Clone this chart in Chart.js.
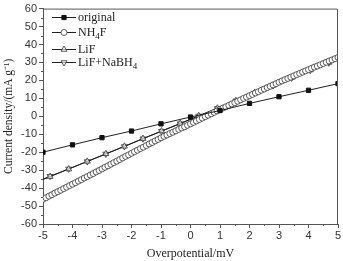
<!DOCTYPE html>
<html>
<head>
<meta charset="utf-8">
<script src="https://cdn.jsdelivr.net/npm/chart.js@4.4.1/dist/chart.umd.min.js"></script>
<style>
  body { margin: 0; background: #fff; }
  canvas { display: block; }
</style>
</head>
<body>
<canvas id="myChart" width="343" height="261"></canvas>
<script>
// Data
let origX = [-5, -4, -3, -2, -1, 0, 1, 2, 3, 4, 5];
let origY = [-20, -15.9, -11.9, -8.2, -4.2, -0.4, 3.2, 7.2, 10.9, 14.5, 18.2];

// NH4F: dense curve, one value every 0.1 mV from -5 to 5
let nh4fY = [
  -46.2, -45.4, -44.5, -43.7, -42.8, -42.0, -41.2, -40.3, -39.5, -38.6,
  -37.8, -37.0, -36.1, -35.3, -34.4, -33.6, -32.7, -31.9, -31.0, -30.2,
  -29.3, -28.4, -27.6, -26.7, -25.8, -25.0, -24.1, -23.2, -22.3, -21.5,
  -20.6, -19.7, -18.9, -18.0, -17.2, -16.3, -15.4, -14.6, -13.7, -12.9,
  -12.0, -11.2, -10.4, -9.6, -8.9, -8.1, -7.3, -6.5, -5.8, -5.0,
  -4.2, -3.4, -2.6, -1.8, -1.0, -0.2, 0.6, 1.4, 2.2, 3.0,
  3.8, 4.6, 5.3, 6.1, 6.9, 7.6, 8.4, 9.2, 10.0, 10.7,
  11.5, 12.2, 13.0, 13.7, 14.5, 15.2, 16.0, 16.7, 17.5, 18.2,
  19.0, 19.7, 20.4, 21.1, 21.8, 22.5, 23.2, 23.9, 24.6, 25.3,
  26.0, 26.7, 27.4, 28.0, 28.7, 29.4, 30.1, 30.8, 31.4, 32.1,
  32.8
];

// LiF and LiF+NaBH4 (markers shown every ~0.63 mV, line runs to the ends)
let liX = [-5, -4.76, -4.13, -3.5, -2.87, -2.24, -1.61, -0.98, -0.35, 0.28, 0.91, 1.54, 2.17, 2.8, 3.43, 4.06, 4.69, 5];
let lifY = [-35.2, -33.6, -29.4, -25.1, -20.9, -16.7, -12.4, -8.2, -4.0, 0.3, 4.5, 8.7, 13.0, 17.2, 21.6, 25.8, 30.0, 32.0];
let nabhY = [-35.0, -33.4, -29.3, -25.2, -21.0, -16.8, -12.5, -8.3, -4.1, 0.2, 4.4, 8.6, 12.9, 17.1, 21.4, 25.6, 29.8, 31.8];

let xMin = -5, xMax = 5, xStep = 1;
let yMin = -60, yMax = 60, yStep = 10;

function pts(xs, ys) {
    return ys.map(function(v, i) { return { x: xs[i], y: v }; });
}

let nh4fX = nh4fY.map(function(v, i) { return Math.round((-5 + i * 0.1) * 10) / 10; });

let serif = "'Liberation Serif', 'Times New Roman', serif";
let sans = "'Liberation Sans', Arial, sans-serif";
let ink = '#222';
let axisCol = '#555';

// endpoints of the triangle series carry no marker
function triRadius(c) {
    return (c.dataIndex === 0 || c.dataIndex === liX.length - 1) ? 0 : 3.5;
}

// Minor ticks + top/right frame
let framePlugin = {
    id: 'frame',
    afterDraw: function(chart) {
        let ctx = chart.ctx;
        let a = chart.chartArea;
        let xs = chart.scales.x, ys = chart.scales.y;
        ctx.save();
        ctx.strokeStyle = axisCol;
        ctx.lineWidth = 1;
        ctx.beginPath();
        ctx.moveTo(a.left, a.top + 0.5);
        ctx.lineTo(a.right - 0.5, a.top + 0.5);
        ctx.lineTo(a.right - 0.5, a.bottom);
        ctx.stroke();
        ctx.beginPath();
        for (let v = xMin + 0.5; v < xMax; v += 1) {
            let px = Math.round(xs.getPixelForValue(v)) + 0.5;
            ctx.moveTo(px, a.bottom);
            ctx.lineTo(px, a.bottom + 2);
        }
        for (let v = yMin + 5; v < yMax; v += 10) {
            let py = Math.round(ys.getPixelForValue(v)) + 0.5;
            ctx.moveTo(a.left, py);
            ctx.lineTo(a.left - 2, py);
        }
        ctx.stroke();
        ctx.restore();
    }
};

// Legend with line + marker and subscripts
let legendPlugin = {
    id: 'subLegend',
    afterDatasetsDraw: function(chart) {
        let ctx = chart.ctx;
        let rows = [
            { y: 17.5, parts: [['original', 0]] },
            { y: 32.5, parts: [['NH', 0], ['4', 1], ['F', 0]] },
            { y: 49.5, parts: [['LiF', 0]] },
            { y: 62.5, parts: [['LiF+NaBH', 0], ['4', 1]] }
        ];
        ctx.save();
        rows.forEach(function(r, i) {
            let ds = chart.data.datasets[i];
            ctx.strokeStyle = ink;
            ctx.lineWidth = 1;
            ctx.beginPath();
            ctx.moveTo(52, r.y);
            ctx.lineTo(76, r.y);
            ctx.stroke();
            ctx.fillStyle = ds.pointBackgroundColor;
            ctx.strokeStyle = ds.pointBorderColor;
            ctx.lineWidth = ds.pointBorderWidth;
            Chart.helpers.drawPoint(ctx, {
                pointStyle: ds.pointStyle,
                radius: ds.legendRadius,
                rotation: ds.pointRotation || 0,
                borderWidth: ds.pointBorderWidth
            }, 64, r.y);
            let x = 78;
            ctx.fillStyle = ink;
            ctx.textBaseline = 'middle';
            r.parts.forEach(function(p) {
                if (p[1]) {
                    ctx.font = '9px ' + serif;
                    ctx.fillText(p[0], x, r.y + 4);
                } else {
                    ctx.font = '12px ' + serif;
                    ctx.fillText(p[0], x, r.y);
                }
                x += ctx.measureText(p[0]).width;
            });
        });
        ctx.restore();
    }
};

let ctx = document.getElementById('myChart').getContext('2d');
let myChart = new Chart(ctx, {
    type: 'scatter',
    data: {
        datasets: [{
            label: 'original',
            data: pts(origX, origY),
            showLine: true,
            borderColor: ink,
            borderWidth: 1,
            pointStyle: 'rect',
            pointRadius: 3,
            legendRadius: 3,
            pointBackgroundColor: '#111',
            pointBorderColor: '#111',
            pointBorderWidth: 1
        }, {
            label: 'NH4F',
            data: pts(nh4fX, nh4fY),
            showLine: true,
            borderColor: ink,
            borderWidth: 1,
            pointStyle: 'circle',
            pointRadius: 3,
            legendRadius: 3,
            pointBackgroundColor: '#fff',
            pointBorderColor: '#333',
            pointBorderWidth: 0.8
        }, {
            label: 'LiF',
            data: pts(liX, lifY),
            showLine: true,
            borderColor: ink,
            borderWidth: 1,
            pointStyle: 'triangle',
            pointRadius: triRadius,
            legendRadius: 3.5,
            pointBackgroundColor: 'rgba(255,255,255,0.6)',
            pointBorderColor: '#333',
            pointBorderWidth: 0.8
        }, {
            label: 'LiF+NaBH4',
            data: pts(liX, nabhY),
            showLine: true,
            borderColor: ink,
            borderWidth: 1,
            pointStyle: 'triangle',
            pointRotation: 180,
            pointRadius: triRadius,
            legendRadius: 3.5,
            pointBackgroundColor: 'rgba(255,255,255,0.6)',
            pointBorderColor: '#333',
            pointBorderWidth: 0.8
        }]
    },
    options: {
        responsive: false,
        animation: false,
        devicePixelRatio: 1,
        layout: { padding: { top: 5, right: 5, left: 0, bottom: 0 } },
        plugins: {
            legend: { display: false },
            tooltip: { enabled: false }
        },
        scales: {
            x: {
                type: 'linear',
                min: xMin,
                max: xMax,
                ticks: { stepSize: xStep, color: '#333', padding: 1, font: { family: sans, size: 11 } },
                grid: { drawOnChartArea: false, drawTicks: true, tickLength: 4, color: axisCol },
                border: { color: axisCol, width: 1 },
                title: {
                    display: true,
                    text: 'Overpotential/mV',
                    color: '#222',
                    font: { family: serif, size: 12 },
                    padding: { top: 0, bottom: 0 }
                },
                afterFit: function(s) { s.height = 37; }
            },
            y: {
                min: yMin,
                max: yMax,
                ticks: { stepSize: yStep, color: '#333', padding: 2, font: { family: sans, size: 11 } },
                grid: { drawOnChartArea: false, drawTicks: true, tickLength: 4, color: axisCol },
                border: { color: axisCol, width: 1 },
                title: {
                    display: true,
                    text: 'Current density/(mA g\u207B\u00B9)',
                    color: '#222',
                    font: { family: serif, size: 11.5 },
                    padding: { top: 2, bottom: 0 }
                },
                afterFit: function(s) { s.width = 43; }
            }
        }
    },
    plugins: [framePlugin, legendPlugin]
});
</script>
</body>
</html>
